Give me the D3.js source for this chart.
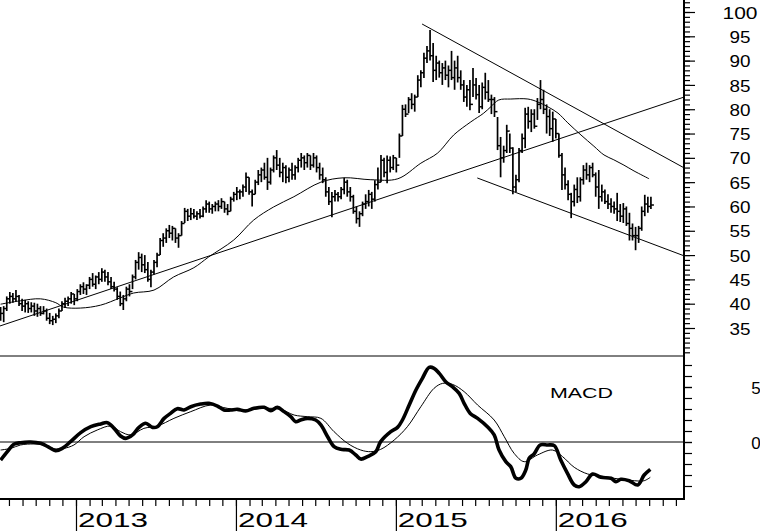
<!DOCTYPE html>
<html><head><meta charset="utf-8">
<script src="https://cdn.jsdelivr.net/npm/d3@7"></script>
<style>
body{margin:0;background:#fff}
svg{display:block}
text{font-family:"Liberation Sans",Arial,sans-serif;fill:#000}
</style>
</head><body>
<svg id="c" width="760" height="531"></svg>
<script>
// ---------- DATA ----------
const firstWeek = "2012-07-13";   // date of first weekly bar
const highs = [39.3,39.5,41.5,42.4,42.2,42.8,41.8,41,40.8,40.5,40.3,40.2,40,39.5,39.5,39,38.1,37.5,38,39,
40.5,41.2,41.5,42.4,42,43,44,44.4,44,45.5,46.3,45.8,46.5,47.3,47,46.5,45.5,44.5,43.4,42.5,
41.8,43.5,44,46,49,50.6,50.3,50,48.6,47,49,50.5,53.5,54.5,55.5,56.2,56,55.5,54.5,57,
59.7,59.5,59.7,59.5,59,59.5,60,61.3,61,60.5,61,61.3,61.7,61,60.5,62,63,64,63.5,64.5,
67,66,63.5,65.5,67.5,68,69,70,68,70.5,71.6,70,69,68.5,68,69,68.5,70,71,70.5,
71,70.5,71,70.5,69,68,66,64,63,63.4,63,64,65.9,65.5,64,62.4,60,59,61,62.5,
63.4,63,65.4,68,70.6,70,70.5,70.3,70.6,70,75,80.9,81,82.5,83.3,83,87,88,91.6,93,
96.3,93.6,91,90,89.5,90,89,92,90,91,88,86,85,86,88.5,86.4,85,85.5,87.5,86,
83,82.5,78.4,74.3,72.5,76.8,75,72.2,66.5,72,75,80.3,80.5,80,80,82.3,86,84,81,80,
79.5,78,75,71,68,65.4,62.8,64.5,66,66,68.5,69,68.5,69,67,67.5,64.5,63.5,62.5,61.7,
61,62.8,60.5,60.7,60,58.7,56.5,55.8,56,60,62.4,62,62];
const lows = [36.5,36.2,38.5,40,40.2,40.5,39.5,38.5,38.2,38.1,38.2,37.5,37.3,37.5,37.8,36.5,35.8,35.6,36,37,
38.5,39.1,39.5,40,39.7,40.5,41.8,42,41.8,43,43.5,43,44,44.5,44.5,43.8,43,42.5,40.8,39.5,
38.7,40.5,41.5,43,45,47,46.5,46.3,44.5,43.4,46,47.5,50,51.7,52.5,53.5,53,52.5,51.5,54,
56.6,57,57.2,57.5,57.2,57.5,57.8,58.7,58.7,58.5,59,59,59.5,58.7,58.2,59,61,61.3,61.5,62,
63,62.4,60,62.5,64.4,65,65.5,63.4,64.5,67,67.5,66,65,64.8,65,65.5,65.5,67,68,67.5,
68,67.5,68,67,65.5,64.8,62,60.3,57.8,61,61,61.5,62.5,62,61,58.5,56.5,55.8,58,59.5,
60,59.5,61,63.5,65,66,64.8,67,67.5,67,70,74.5,78.4,79.2,80,79.5,82.5,84.5,86.4,89.5,
90,85.6,86,86.5,85,86,84.5,86,84,85.5,84,81.5,80.5,79.8,82.5,82,79.2,80,82,81.5,
79,78.4,71.6,66,69,71,71,62.5,63,65,71,72,76,75.3,76,77.8,80,79,75,74.5,
73.3,74,70,63.4,63.5,61.3,57.6,60,60.7,61,64.5,65.5,65,66,62,59.5,61,60.5,59.5,58.7,
58.5,57,56.8,56.6,56,53,53,51,52.5,55,58,58.7,59.5];
const closes = [38,39,41,41.5,41,41.5,40,39.5,40,39,39.5,38.5,39,38,38.5,37,36.5,36.8,37.5,38.5,
40,40.5,41,42,41,42.5,43.5,43,43.8,45,44,45.5,45,46.5,45.5,44.5,43.5,43,41.5,40,
41,43,42.5,45.5,48.5,49.5,48,47,45,46.5,48.5,50,53,53.5,55,54.5,55.5,53.5,54,56.5,
59,58,58.5,58,58.5,58,59.5,60.5,59.5,60,60.5,60,61,59.5,59,61.5,62.5,63,63,64,
66,63,62.5,65,66.5,67.5,66,65,67.5,70,68.5,67,68,66,67.5,66.5,68,69.5,70,69,
70.5,68.5,70,68,66.5,65.5,63,61,62,62.5,62,63.5,65,63,62,59,57.5,58.5,60.5,61,
62.5,61.5,64.5,65,69.5,67,69.5,68,70,68.5,74.5,80,79,82,81,82.5,86,87.5,90.5,92,
91,88,89.5,87.5,88.5,87,88,86.5,88.5,86.5,85,82.5,84,81,85,83,80.5,84.5,83.5,82,
82,79.5,72.5,70,71.5,75.5,72,64,65.5,71.5,74,79,77.5,79,76.5,81,82,80,78.5,76,
78,75,70.5,66.5,64.5,62.5,61,63.5,62,65.5,67.5,66.5,68,66.5,64,62,63,61,60.5,60,
59.5,59,58,59.5,56.5,55.5,54,54,55.5,59,60.5,60,60.3];

// moving average: [week number, price]
const movingAvg = [[0,39.9],[6.5,40.6],[13,41.0],[18,40.2],[20.5,39.3],[26,39.1],[32.6,39.7],[39,41.2],
[43.4,42.2],[50,42.8],[56.4,45.5],[63,47.4],[67.8,49.6],[76,53.1],[82.5,57.2],[89,59.9],[95.6,62.0],
[104.4,65.0],[111.9,65.9],[120.7,65.5],[129.5,65.7],[137,68.9],[142.5,71.0],[147.7,74.7],[153.3,77.4],
[157.5,79.2],[159.8,80.5],[162.4,81.9],[166.3,82.1],[171.9,82.1],[175.1,81.5],[178.4,80.5],[181.7,79.2],
[184.9,77.2],[189.2,74.7],[193.4,72.4],[196.7,70.6],[199.9,69.6],[203.2,68.5],[206.5,67.3],[211.4,65.7]];

// trend lines: pairs of [week number, price]
const trendLines = [
  [[-0.2,35.42],[222.9,82.52]],
  [[137.4,97.53],[222.9,67.91]],
  [[155.4,65.86],[222.9,49.82]]
];

// MACD and signal: [week number, value]
const macdLine = [[0,-1.64],[2.2,-0.88],[4.3,-0.21],[6.5,-0.06],[9.8,0],[13,-0.12],[15.8,-0.48],[17.9,-0.79],
[20.1,-0.58],[22.8,0.03],[26.1,0.85],[29.4,1.39],[32.6,1.64],[34.8,1.76],[37,1.24],[39.1,0.55],[40.8,0.33],
[43,0.64],[45.1,1.33],[47.3,1.7],[49.5,1.33],[51.1,1.39],[53.3,2.15],[55.4,2.6],[57.6,3.03],[59.8,2.91],
[62,3.21],[65.2,3.45],[67.9,3.52],[70.7,3.27],[72.8,2.91],[75,2.91],[77.2,2.97],[79.9,2.82],[82.6,3.06],
[85.9,3.15],[88.1,2.85],[90.2,3.15],[92.4,2.76],[94.6,2.3],[96.2,1.85],[97.8,2.0],[100,2.15],[102.7,2.0],
[104.4,1.55],[106.6,0.48],[108.7,-0.42],[110.9,-0.67],[113.6,-0.73],[115.8,-1.18],[117.4,-1.55],[119.6,-1.33],
[122.3,-0.88],[123.9,0.03],[127.2,0.94],[129.4,1.33],[131,2.0],[133.2,3.36],[135.4,4.73],[137.5,5.79],
[139.7,6.79],[141.3,6.7],[143,6.24],[145.1,5.48],[147.3,5.03],[149.5,4.42],[151.1,3.52],[153.1,2.6],
[155.5,2.15],[158.7,1.39],[160.9,0.64],[162.5,-0.73],[164.7,-1.79],[166.3,-2.24],[168,-3.3],[169.6,-3.3],
[171.2,-2.55],[172.3,-1.48],[173.9,-1.09],[175.9,-0.27],[178.3,-0.27],[180.5,-0.33],[182.6,-1.64],
[184.8,-2.85],[187,-3.91],[188.6,-4.06],[190.8,-3.61],[193,-2.91],[195.7,-3.21],[199,-3.3],[200.6,-3.61],
[202.2,-3.39],[204.9,-3.52],[207.7,-3.91],[209.8,-3.0],[211.8,-2.48]];
const signalLine = [[0,-0.73],[3.3,-0.58],[6.5,-0.27],[10.9,-0.18],[14.1,-0.27],[17.4,-0.61],[20.6,-0.58],
[23.9,-0.27],[27.2,0.48],[31.5,1.09],[35.9,1.45],[39.1,0.94],[42.4,0.64],[46.7,1.24],[51.1,1.45],[56.5,2.15],
[62,2.76],[68.5,3.36],[73.9,3.06],[79.4,2.91],[85.9,3.06],[91.3,2.97],[95.7,2.45],[100,2.3],[104.4,2.15],
[108.7,0.94],[113.1,-0.12],[117.4,-0.73],[120.7,-0.88],[123.9,-0.67],[128.3,0.18],[132.6,1.39],[137,3.21],
[141.3,4.88],[144.1,5.33],[147.3,5.24],[151.1,4.58],[155.5,3.36],[160.9,2.0],[164.2,0.48],[167.4,-1.03],
[170.7,-1.79],[175,-1.18],[179.9,-0.73],[183.2,-1.33],[187,-2.3],[191.4,-2.91],[195.7,-3.09],[200,-3.3],
[206.6,-3.52],[209.8,-3.52],[211.8,-3.21]];

const priceTicks = [35,40,45,50,55,60,65,70,75,80,85,90,95,100];
const macdTicks = [0,5];
const yearLabels = ["2013","2014","2015","2016"];
const macdTitle = "MACD";

// ---------- LAYOUT ----------
const W = 760, H = 531;
const axisX = 684, sepY = 356, bottomY = 499;
const svg = d3.select("#c");
const DAY = 864e5;
const t0 = Date.parse(firstWeek + "T00:00:00Z");
const weekDate = w => new Date(t0 + w * 7 * DAY);

const x = d3.scaleUtc()
  .domain([new Date(Date.UTC(2012,6,11,14)), new Date(Date.UTC(2016,9,19,12))])
  .range([0, axisX]);
const yP = d3.scaleLinear().domain([35,100]).range([328,12]);
const yM = d3.scaleLinear().domain([0,5]).range([442,387]);

const defs = svg.append("defs");
defs.append("clipPath").attr("id","cp").append("rect").attr("x",0).attr("y",0).attr("width",axisX).attr("height",sepY);
defs.append("clipPath").attr("id","cm").append("rect").attr("x",0).attr("y",sepY).attr("width",axisX).attr("height",bottomY-sepY);

// ---------- PRICE PANEL ----------
const gp = svg.append("g").attr("clip-path","url(#cp)");
const bars = highs.map((h,i)=>({d:weekDate(i),h,l:lows[i],c:closes[i]}));
gp.append("g").selectAll("line").data(bars).join("line")
  .attr("x1",d=>x(d.d)).attr("x2",d=>x(d.d))
  .attr("y1",d=>yP(d.h)).attr("y2",d=>yP(d.l))
  .attr("stroke","#000").attr("stroke-width",1.7);
gp.append("g").selectAll("line").data(bars).join("line")
  .attr("x1",d=>x(d.d)).attr("x2",d=>x(d.d)+3)
  .attr("y1",d=>yP(d.c)).attr("y2",d=>yP(d.c))
  .attr("stroke","#000").attr("stroke-width",1.5);

const lineP = d3.line().x(d=>x(weekDate(d[0]))).y(d=>yP(d[1]));
gp.append("path").datum(movingAvg).attr("d",lineP.curve(d3.curveCatmullRom))
  .attr("fill","none").attr("stroke","#000").attr("stroke-width",1);
trendLines.forEach(t=>{
  gp.append("path").datum(t).attr("d",d3.line().x(d=>x(weekDate(d[0]))).y(d=>yP(d[1])))
    .attr("fill","none").attr("stroke","#000").attr("stroke-width",1);
});

// ---------- MACD PANEL ----------
const gm = svg.append("g").attr("clip-path","url(#cm)");
gm.append("line").attr("x1",0).attr("x2",axisX).attr("y1",yM(0)).attr("y2",yM(0))
  .attr("stroke","#000").attr("stroke-width",1);
const lineM = d3.line().x(d=>x(weekDate(d[0]))).y(d=>yM(d[1])).curve(d3.curveCatmullRom);
gm.append("path").datum(signalLine).attr("d",lineM).attr("fill","none").attr("stroke","#000").attr("stroke-width",1);
gm.append("path").datum(macdLine).attr("d",lineM).attr("fill","none").attr("stroke","#000")
  .attr("stroke-width",3.6).attr("stroke-linejoin","round");
svg.append("text").attr("x",550).attr("y",398).attr("font-size",15)
  .attr("textLength",63).attr("lengthAdjust","spacingAndGlyphs").text(macdTitle);

// ---------- FRAME / AXES ----------
svg.append("line").attr("x1",0).attr("x2",axisX).attr("y1",sepY).attr("y2",sepY).attr("stroke","#000").attr("stroke-width",1);
svg.append("line").attr("x1",axisX).attr("x2",axisX).attr("y1",0).attr("y2",bottomY+1).attr("stroke","#000").attr("stroke-width",2);
svg.append("line").attr("x1",0).attr("x2",axisX+1).attr("y1",bottomY).attr("y2",bottomY).attr("stroke","#000").attr("stroke-width",2);

function styleAxis(g){ g.select(".domain").remove(); g.selectAll(".tick line").attr("stroke","#000").attr("stroke-width",1.2); }

// price axis
svg.append("g").attr("transform",`translate(${axisX},0)`)
  .call(d3.axisRight(yP).tickValues(d3.range(30,103,1)).tickSize(6).tickFormat("")).call(styleAxis);
const gpa2 = svg.append("g").attr("transform",`translate(${axisX},0)`)
  .call(d3.axisRight(yP).tickValues(priceTicks).tickSize(11).tickFormat(d3.format("d"))).call(styleAxis);
gpa2.selectAll(".tick text").attr("x",56).attr("dy","0.36em").attr("text-anchor","middle")
  .attr("font-size",17).attr("font-family","Liberation Sans, Arial, sans-serif").attr("fill","#000")
  .attr("textLength",d=>String(d).length>2?35:21).attr("lengthAdjust","spacingAndGlyphs");

// macd axis
svg.append("g").attr("transform",`translate(${axisX},0)`)
  .call(d3.axisRight(yM).tickValues(d3.range(-4,8,1)).tickSize(8).tickFormat("")).call(styleAxis);
const gma = svg.append("g").attr("transform",`translate(${axisX},0)`)
  .call(d3.axisRight(yM).tickValues(macdTicks).tickSize(8).tickFormat(d3.format("d"))).call(styleAxis);
gma.selectAll(".tick text").attr("x",72).attr("dy","0.36em").attr("text-anchor","middle")
  .attr("font-size",17).attr("font-family","Liberation Sans, Arial, sans-serif").attr("fill","#000");

// time axis
const [d0,d1] = x.domain();
svg.append("g").attr("transform",`translate(0,${bottomY})`)
  .call(d3.axisBottom(x).tickValues(d3.utcMonth.range(d0,d1)).tickSize(7).tickFormat("")).call(styleAxis);
const years = yearLabels.map(s=>new Date(Date.UTC(+s,0,1)));
svg.append("g").attr("transform",`translate(0,${bottomY})`)
  .call(d3.axisBottom(x).tickValues(years).tickSize(32).tickFormat("")).call(styleAxis);
svg.append("g").selectAll("text").data(yearLabels).join("text")
  .attr("x",(s,i)=>x(years[i])+2).attr("y",527).attr("font-size",21)
  .attr("textLength",70).attr("lengthAdjust","spacingAndGlyphs").text(s=>s);
</script>
</body></html>
